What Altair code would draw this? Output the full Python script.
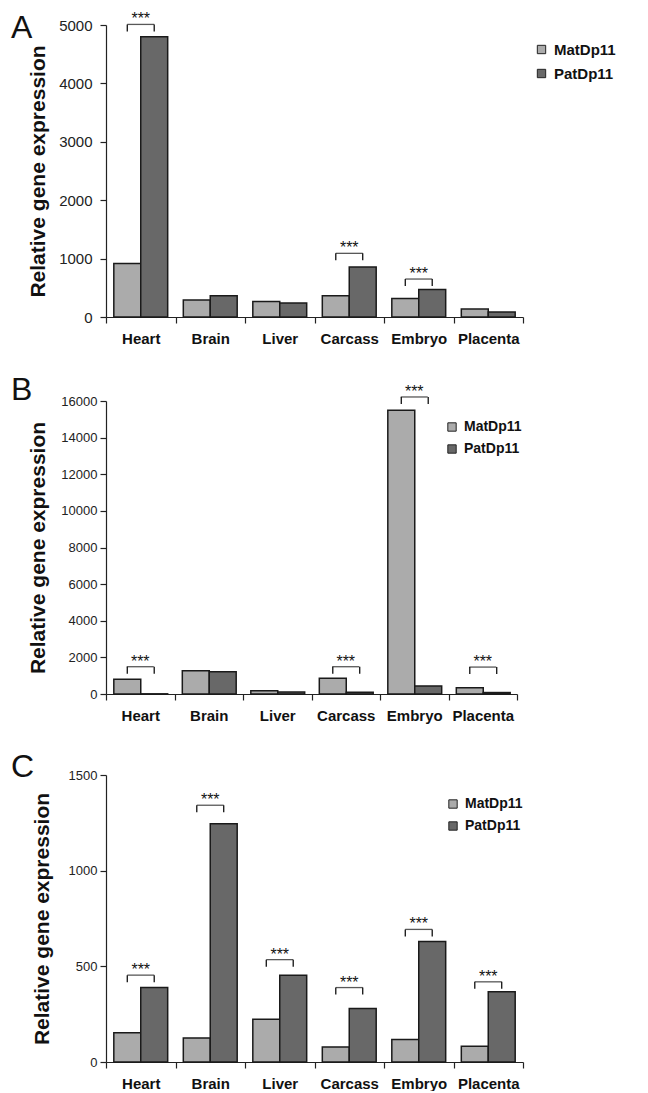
import altair as alt
import pandas as pd

tissues = ["Heart", "Brain", "Liver", "Carcass", "Embryo", "Placenta"]
series = ["MatDp11", "PatDp11"]

# Panel A
a_mat = [915, 290, 265, 365, 315, 135]
a_pat = [4800, 365, 240, 855, 470, 85]
a_sig = ["Heart", "Carcass", "Embryo"]
a_sig_level = [5010, 1090, 650]
a_ticks = [0, 1000, 2000, 3000, 4000, 5000]

# Panel B
b_mat = [800, 1270, 180, 860, 15500, 340]
b_pat = [10, 1210, 110, 100, 440, 80]
b_sig = ["Heart", "Carcass", "Embryo", "Placenta"]
b_sig_level = [1490, 1490, 16220, 1470]
b_ticks = [0, 2000, 4000, 6000, 8000, 10000, 12000, 14000, 16000]

# Panel C
c_mat = [153, 126, 223, 79, 118, 82]
c_pat = [389, 1245, 454, 279, 630, 367]
c_sig = ["Heart", "Brain", "Liver", "Carcass", "Embryo", "Placenta"]
c_sig_level = [454, 1342, 535, 389, 693, 419]
c_ticks = [0, 500, 1000, 1500]

colors = ["#ababab", "#686868"]
FONT = "Liberation Sans"


def panel(letter, mat, pat, sig_t, sig_l, ticks, w, h, label_size, label_pad,
          title_pad, leg_x, leg_y, leg_font, letter_y):
    bars = pd.DataFrame({
        "tissue": tissues * 2,
        "series": [series[0]] * len(tissues) + [series[1]] * len(tissues),
        "value": mat + pat,
    })
    sig = pd.DataFrame({"tissue": sig_t, "value": sig_l})
    legs = pd.DataFrame({
        "tissue": sig_t * 2,
        "series": [series[0]] * len(sig_t) + [series[1]] * len(sig_t),
        "value": sig_l * 2,
    })
    lab = pd.DataFrame({"t": [letter]})

    x = alt.X("tissue:N", sort=tissues,
              scale=alt.Scale(paddingInner=0, paddingOuter=0),
              axis=alt.Axis(title=None, labelAngle=0, tickBand="extent",
                            labelFontWeight="bold", labelFontSize=15,
                            labelColor="#111", labelPadding=8,
                            domainColor="#222", tickColor="#222",
                            tickSize=6, domainWidth=1.2, tickWidth=1.2))
    y = alt.Y("value:Q",
              scale=alt.Scale(domain=[0, ticks[-1]], nice=False, zero=True),
              axis=alt.Axis(title="Relative gene expression", values=ticks,
                            format="d",
                            grid=False, labelFontSize=label_size,
                            labelColor="#222", labelPadding=label_pad,
                            tickSize=6, tickColor="#222", domainColor="#222",
                            domainWidth=1.2, tickWidth=1.2,
                            titleFontSize=21, titleFontWeight="bold",
                            titleColor="#111", titlePadding=title_pad))
    xo = alt.XOffset("series:N", sort=series,
                     scale=alt.Scale(paddingOuter=0.29, paddingInner=0))

    bar_layer = alt.Chart(bars).mark_bar(stroke="#1a1a1a", strokeWidth=1.5).encode(
        x=x, y=y, xOffset=xo,
        color=alt.Color("series:N", sort=series,
                        scale=alt.Scale(domain=series, range=colors),
                        legend=alt.Legend(title=None, orient="none",
                                          legendX=leg_x, legendY=leg_y,
                                          symbolType="square", symbolSize=70,
                                          symbolStrokeColor="#222",
                                          symbolStrokeWidth=1,
                                          labelFontSize=leg_font,
                                          labelFontWeight="bold",
                                          labelColor="#111",
                                          labelOffset=5, rowPadding=8,
                                          padding=0)),
    )
    top_line = alt.Chart(sig).mark_tick(color="#111", thickness=1.3, size=27).encode(
        x=x, y=y)
    leg_layer = alt.Chart(legs).mark_rule(color="#111", strokeWidth=1.3, y2Offset=7).encode(
        x=x, xOffset=xo, y=y, y2=alt.Y2("value:Q"))
    stars = alt.Chart(sig).mark_text(text="***", fontSize=16, dy=0,
                                     baseline="alphabetic", color="#111").encode(
        x=x, y=y)
    letter_layer = alt.Chart(lab).mark_text(align="left", baseline="alphabetic",
                                            fontSize=32, fontWeight="normal",
                                            color="#111").encode(
        x=alt.value(-95), y=alt.value(letter_y), text="t:N")
    return alt.layer(bar_layer, top_line, leg_layer, stars, letter_layer).properties(
        width=w, height=h)


pa = panel("A", a_mat, a_pat, a_sig, a_sig_level, a_ticks, 417, 292, 15, 8, 10,
           428, 17, 15, 13)
pb = panel("B", b_mat, b_pat, b_sig, b_sig_level, b_ticks, 411, 293, 13, 3, 12,
           339, 19, 14, -1)
pc = panel("C", c_mat, c_pat, c_sig, c_sig_level, c_ticks, 417, 287, 13, 3, 16,
           340, 22, 14, 2)

chart = alt.vconcat(pa, pb, pc, spacing=28).resolve_scale(
    color="independent"
).properties(
    padding={"left": 3, "top": 3, "right": 5, "bottom": 0}
).configure(font=FONT).configure_view(stroke=None)

chart.save("out.html", embed_options={"renderer": "svg", "actions": False})
